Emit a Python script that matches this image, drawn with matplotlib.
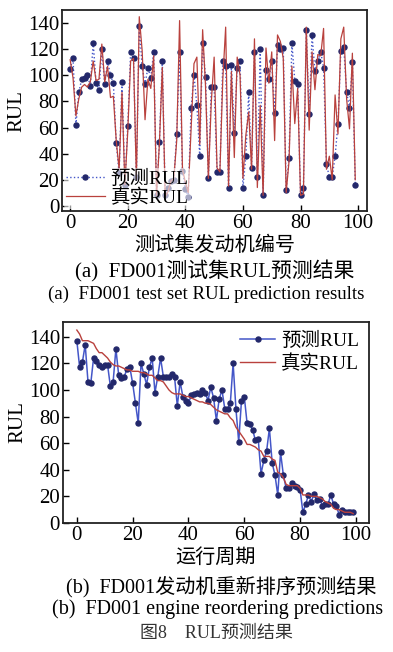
import matplotlib
matplotlib.use("Agg")
import matplotlib.pyplot as plt
import numpy as np

plt.rcParams['font.family'] = ['Liberation Serif', 'Noto Sans CJK SC']
plt.rcParams['axes.unicode_minus'] = False

# (a) FD001 test set: true RUL per engine and model prediction
true_rul = [112, 98, 69, 82, 91, 93, 91, 95, 111, 96, 97, 124, 95, 107, 83, 84, 50, 28, 87, 16,
            57, 111, 113, 20, 145, 119, 66, 97, 90, 115, 8, 48, 106, 7, 11, 19, 21, 50, 142, 28,
            18, 10, 59, 109, 114, 47, 135, 92, 21, 79, 114, 29, 26, 97, 137, 15, 103, 37, 114, 100,
            21, 54, 72, 28, 128, 14, 77, 8, 121, 94, 118, 50, 131, 126, 113, 10, 34, 107, 63, 90,
            8, 9, 137, 58, 118, 89, 116, 115, 136, 28, 38, 20, 85, 55, 128, 137, 82, 59, 117, 20]
pred_rul = [105, 113, 62, 87, 97, 98, 100, 92, 125, 94, 89, 120, 93, 111, 100, 94, 48, 25, 95, 16,
            61, 118, 113, 22, 138, 107, 93, 106, 98, 118, 8, 49, 111, 8, 14, 19, 20, 55, 118, 27,
            13, 7, 75, 100, 77, 38, 125, 99, 21, 91, 91, 26, 26, 111, 107, 14, 108, 56, 106, 111,
            14, 38, 87, 29, 118, 22, 120, 8, 104, 97, 111, 71, 123, 120, 121, 12, 37, 125, 96, 93,
            8, 14, 135, 70, 131, 103, 111, 118, 106, 32, 22, 22, 38, 63, 119, 122, 87, 75, 110, 16]

# (b) engines reordered by true RUL
sorted_true = sorted(true_rul, reverse=True)
sorted_pred = [137, 117, 121, 134, 106, 105, 124, 122, 119, 117, 119, 119, 103, 106, 131, 111, 109, 110, 116, 117,
               105, 90, 75, 120, 112, 104, 117, 124, 98, 110, 124, 110, 110, 110, 112, 110, 88, 106, 95, 92,
               90, 96, 97, 98, 97, 100, 98, 92, 102, 94, 77, 93, 100, 86, 86, 90, 120, 86, 61, 92,
               95, 75, 74, 70, 62, 63, 37, 47, 54, 71, 45, 36, 21, 53, 36, 26, 26, 30, 28, 27,
               25, 8, 14, 21, 16, 22, 17, 18, 13, 14, 14, 21, 14, 13, 6, 10, 8, 8, 8, 8]

navy = '#23286b'
blue = '#4456c8'
red = '#b9413d'

fig = plt.figure(figsize=(3.93, 6.52), dpi=100)

ax1 = fig.add_axes([0.158, 0.6764, 0.776, 0.308])
x = np.arange(len(true_rul))
ax1.plot(x, pred_rul, ':', color=blue, lw=1.0, marker='o', ms=3.6,
         mfc=navy, mec=navy, label='预测RUL')
ax1.plot(x, true_rul, '-', color=red, lw=0.9, label='真实RUL')
ax1.set_xlim(-2.8, 103.1)
ax1.set_ylim(-4, 150)
ax1.set_xticks([0, 20, 40, 60, 80, 100])
ax1.set_yticks(np.arange(0, 141, 20))
ax1.set_xlabel('测试集发动机编号', fontsize=14.5, labelpad=3)
ax1.set_ylabel('RUL', fontsize=15, labelpad=1)
leg1 = ax1.legend(loc='lower left', fontsize=14, frameon=True, handlelength=2.0,
                  borderpad=0.1, labelspacing=0.05, handletextpad=0.3,
                  borderaxespad=0.1)
leg1.get_frame().set_edgecolor('none')
leg1.get_frame().set_alpha(0.6)

ax2 = fig.add_axes([0.160, 0.198, 0.779, 0.308])
x2 = np.arange(len(sorted_true))
ax2.plot(x2, sorted_pred, '-', color=blue, lw=1.1, marker='o', ms=3.6,
         mfc=navy, mec=navy, label='预测RUL')
ax2.plot(x2, sorted_true, '-', color=red, lw=1.0, label='真实RUL')
ax2.set_xlim(-5, 104.7)
ax2.set_ylim(0, 151)
ax2.set_xticks([0, 20, 40, 60, 80, 100])
ax2.set_yticks(np.arange(0, 141, 20))
ax2.set_xlabel('运行周期', fontsize=14.5, labelpad=3)
ax2.set_ylabel('RUL', fontsize=15, labelpad=1)
leg2 = ax2.legend(loc='upper right', fontsize=14, frameon=False, handlelength=1.8,
                  borderpad=0.3, labelspacing=0.25, handletextpad=0.3,
                  borderaxespad=0.2)

for ax in (ax1, ax2):
    ax.tick_params(direction='in', labelsize=15, length=4, width=1, pad=2,
                   top=False, right=False)
    for s in ax.spines.values():
        s.set_linewidth(1.3)
        s.set_color('#222222')

fig.text(0.547, 0.584, '(a)  FD001测试集RUL预测结果', ha='center', va='center', fontsize=15)
fig.text(0.524, 0.549, '(a)  FD001 test set RUL prediction results', ha='center', va='center', fontsize=13.6)
fig.text(0.563, 0.100, '(b)  FD001发动机重新排序预测结果', ha='center', va='center', fontsize=14.5)
fig.text(0.553, 0.065, '(b)  FD001 engine reordering predictions', ha='center', va='center', fontsize=14.5)
fig.text(0.55, 0.028, '图8    RUL预测结果', ha='center', va='center', fontsize=13, color='#333333')

fig.savefig('out.png', dpi=100)
